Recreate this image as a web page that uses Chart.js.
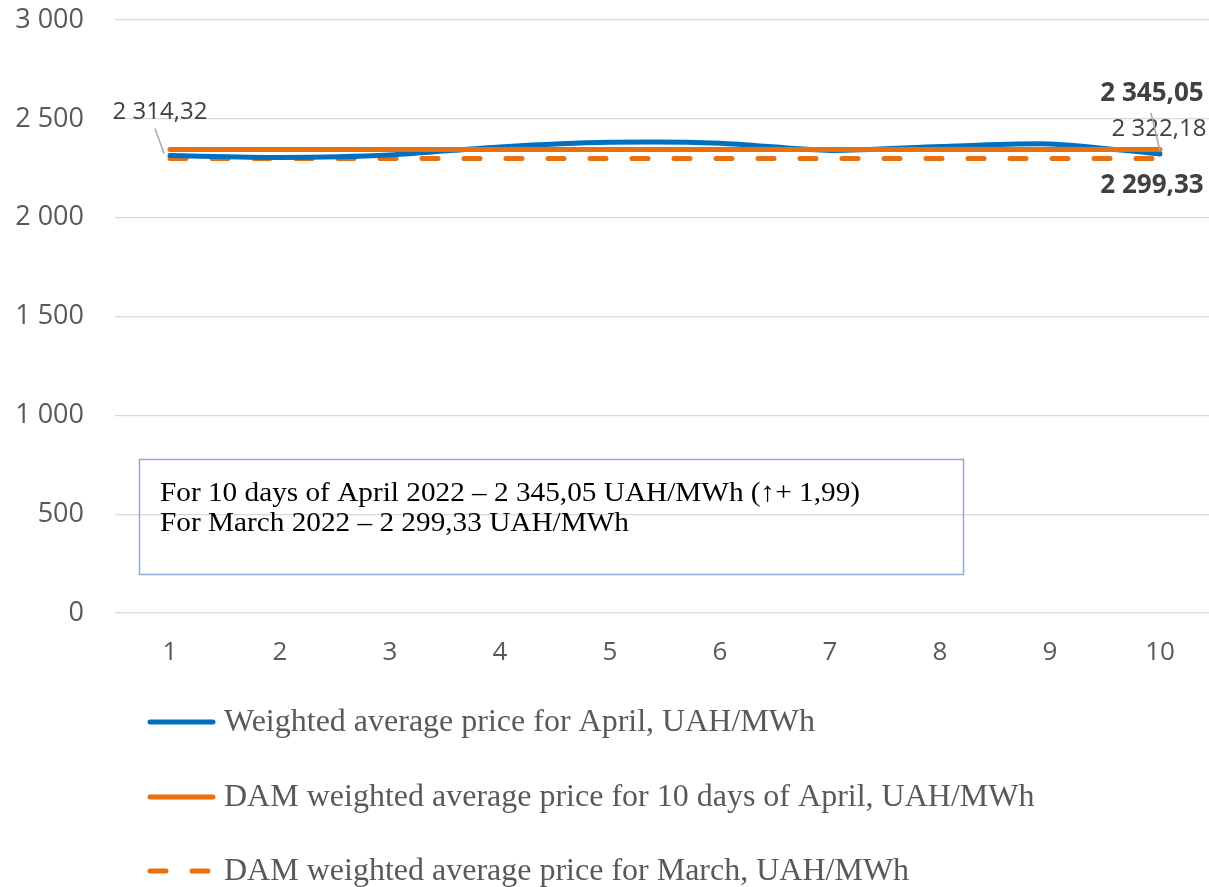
<!DOCTYPE html>
<html>
<head>
<meta charset="utf-8">
<script src="https://cdn.jsdelivr.net/npm/chart.js@4"></script>
<style>
  body { margin: 0; overflow: hidden; background: #fff; }
  #chart { display: block; }
</style>
</head>
<body>
<canvas id="chart" width="1215" height="887"></canvas>
<script>
const days = ["1", "2", "3", "4", "5", "6", "7", "8", "9", "10"];
const aprilDaily = [2314.32, 2305, 2317, 2358, 2381, 2377, 2340, 2360, 2373, 2322.18];
const aprilAvg = [2345.05, 2345.05, 2345.05, 2345.05, 2345.05, 2345.05, 2345.05, 2345.05, 2345.05, 2345.05];
const marchAvg = [2299.33, 2299.33, 2299.33, 2299.33, 2299.33, 2299.33, 2299.33, 2299.33, 2299.33, 2299.33];
const seriesNames = [
  "Weighted average price for April, UAH/MWh",
  "DAM weighted average price for 10 days of April, UAH/MWh",
  "DAM weighted average price for March, UAH/MWh"
];
const noteLines = [
  "For 10 days of April 2022 – 2 345,05 UAH/MWh (↑+ 1,99)",
  "For March 2022 – 2 299,33 UAH/MWh"
];

const BLUE = "#0070C0";
const ORANGE = "#E8700F";
const GREY = "#595959";

function fmt(v) {
  const parts = v.toFixed(2).split(".");
  const intPart = parts[0].replace(/\B(?=(\d{3})+(?!\d))/g, " ");
  return intPart + "," + parts[1];
}
function fmtInt(v) {
  return String(v).replace(/\B(?=(\d{3})+(?!\d))/g, " ");
}

// labels next to the last / first points
const labelsPlugin = {
  id: "pointLabels",
  afterDatasetsDraw(chart) {
    const ctx = chart.ctx;
    const blue = chart.getDatasetMeta(1).data;
    const solid = chart.getDatasetMeta(0).data;
    const dash = chart.getDatasetMeta(2).data;
    ctx.save();
    ctx.textAlign = "center";
    ctx.textBaseline = "middle";
    ctx.fillStyle = "#404040";

    // first blue point
    const p0 = blue[0];
    ctx.font = "24px 'Open Sans'";
    ctx.fillText(fmt(aprilDaily[0]), p0.x - 10, p0.y - 43);
    ctx.strokeStyle = "#a6a6a6";
    ctx.lineWidth = 1.5;
    ctx.beginPath();
    ctx.moveTo(p0.x - 15, p0.y - 27);
    ctx.lineTo(p0.x - 6, p0.y - 2);
    ctx.stroke();

    // last blue point
    const p9 = blue[9];
    ctx.fillText(fmt(aprilDaily[9]), p9.x - 1, p9.y - 25);
    ctx.beginPath();
    ctx.moveTo(p9.x - 9, p9.y - 41);
    ctx.lineTo(p9.x, p9.y - 3);
    ctx.stroke();

    ctx.font = "bold 26px 'Open Sans'";
    const s9 = solid[9];
    ctx.fillText(fmt(aprilAvg[9]), s9.x - 8, s9.y - 56);
    const d9 = dash[9];
    ctx.fillText(fmt(marchAvg[9]), d9.x - 8, d9.y + 27);
    ctx.restore();
  }
};

// text box and legend drawn below the plot
const extrasPlugin = {
  id: "extras",
  afterDraw(chart) {
    const ctx = chart.ctx;
    ctx.save();
    // note box
    ctx.strokeStyle = "#8EAADB";
    ctx.lineWidth = 1.5;
    ctx.strokeRect(139.5, 459.5, 824, 115);
    ctx.fillStyle = "#000";
    ctx.textBaseline = "alphabetic";
    ctx.textAlign = "left";
    ctx.font = "28px 'Liberation Serif'";
    const sx = 700 / ctx.measureText(noteLines[0]).width;
    noteLines.forEach((t, i) => {
      ctx.save();
      ctx.translate(160, 501 + i * 30);
      ctx.scale(sx, 1);
      ctx.fillText(t, 0, 0);
      ctx.restore();
    });

    // legend
    const ys = [722, 797, 871];
    const colors = [BLUE, ORANGE, ORANGE];
    const dashes = [[], [], [16, 26]];
    ctx.font = "31px 'Liberation Serif'";
    const lx = 591 / ctx.measureText(seriesNames[0]).width;
    ctx.textBaseline = "middle";
    seriesNames.forEach((name, i) => {
      ctx.strokeStyle = colors[i];
      ctx.lineWidth = 5;
      ctx.lineCap = "round";
      ctx.setLineDash(dashes[i]);
      ctx.beginPath();
      ctx.moveTo(150, ys[i]);
      ctx.lineTo(213, ys[i]);
      ctx.stroke();
      ctx.setLineDash([]);
      ctx.fillStyle = GREY;
      ctx.save();
      ctx.translate(224, ys[i] + 1);
      ctx.scale(lx, 1);
      ctx.fillText(name, 0, 0);
      ctx.restore();
    });
    ctx.restore();
  }
};

new Chart(document.getElementById("chart"), {
  type: "line",
  data: {
    labels: days,
    datasets: [
      {
        label: seriesNames[1],
        data: aprilAvg,
        borderColor: ORANGE,
        borderWidth: 5,
        pointRadius: 0,
        borderCapStyle: "round",
        order: 0
      },
      {
        label: seriesNames[0],
        data: aprilDaily,
        borderColor: BLUE,
        borderWidth: 5,
        pointRadius: 0,
        tension: 0.25,
        borderCapStyle: "round",
        order: 1
      },
      {
        label: seriesNames[2],
        data: marchAvg,
        borderColor: ORANGE,
        borderWidth: 5,
        borderDash: [16, 26],
        borderCapStyle: "round",
        pointRadius: 0,
        order: 2
      }
    ]
  },
  options: {
    responsive: false,
    animation: false,
    layout: { padding: { top: 0, left: 0, right: 0, bottom: 0 } },
    plugins: {
      legend: { display: false },
      tooltip: { enabled: false }
    },
    scales: {
      x: {
        offset: true,
        grid: { display: false, drawTicks: false, offset: true },
        border: { display: false },
        ticks: {
          color: GREY,
          font: { family: "'Open Sans'", size: 26 },
          padding: 24
        },
        afterFit(scale) { scale.height = 274; }
      },
      y: {
        min: 0,
        max: 3000,
        grid: { color: "#D9D9D9", lineWidth: 1.3, drawTicks: false },
        border: { display: false },
        ticks: {
          stepSize: 500,
          color: GREY,
          font: { family: "'Open Sans'", size: 27 },
          padding: 31,
          callback: (v) => fmtInt(v)
        },
        afterFit(scale) {
          scale.width = 115;
          scale.paddingTop = 20;
          scale.paddingBottom = 0;
        }
      }
    }
  },
  plugins: [labelsPlugin, extrasPlugin]
});
</script>
</body>
</html>
